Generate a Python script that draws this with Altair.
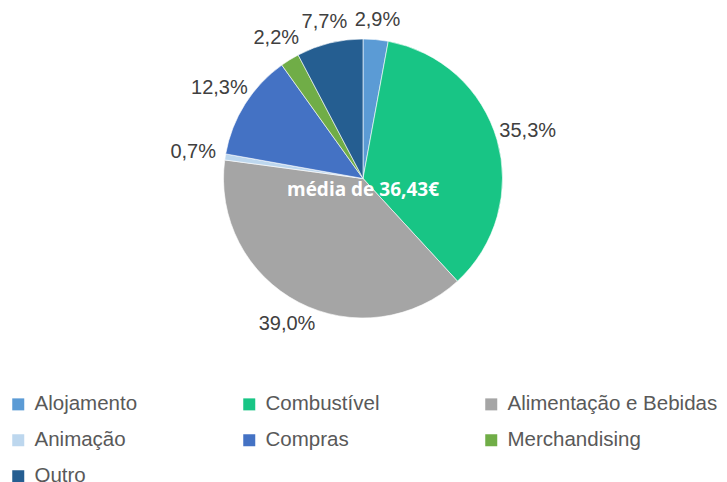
import altair as alt
import pandas as pd

categories = ["Alojamento", "Combustível", "Alimentação e Bebidas", "Animação", "Compras", "Merchandising", "Outro"]
values = [2.9, 35.3, 39.0, 0.7, 12.3, 2.2, 7.7]
labels = ["2,9%", "35,3%", "39,0%", "0,7%", "12,3%", "2,2%", "7,7%"]
colors = ["#5B9BD5", "#18C585", "#A5A5A5", "#BDD7EE", "#4472C4", "#70AD47", "#255E91"]
center_text = "média de 36,43€"

df = pd.DataFrame({"cat": categories, "val": values, "lab": labels, "ord": list(range(len(categories)))})

TOP = 20
W, H = 711, 454
CX, CY = 355, 178.5 - 8 - TOP

pie = alt.Chart(df).mark_arc(outerRadius=139.5, stroke="white", strokeWidth=0.6).encode(
    theta=alt.Theta("val:Q", stack=True),
    order=alt.Order("ord:Q"),
    x=alt.value(CX),
    y=alt.value(CY),
    color=alt.Color(
        "cat:N",
        scale=alt.Scale(domain=categories, range=colors),
        sort=categories,
        legend=alt.Legend(
            title=None,
            orient="none",
            legendX=0,
            legendY=366,
            padding=0,
            direction="horizontal",
            columns=3,
            columnPadding=101,
            rowPadding=15,
            symbolType="square",
            symbolSize=144,
            symbolStrokeWidth=0,
            labelFontSize=20.5,
            labelFont="Liberation Sans",
            labelColor="#595959",
            labelLimit=400,
            labelOffset=6,
            gridAlign="each",
        ),
    ),
)

# labels at the middle angle of each slice; wide labels at the sides sit further out
text = alt.Chart(df).transform_joinaggregate(
    total="sum(val)"
).transform_window(
    cum="sum(val)", sort=[alt.SortField("ord")], frame=[None, 0]
).transform_calculate(
    mid="(datum.cum - datum.val / 2) / datum.total * 2 * PI",
    rad="158 + 14 * abs(sin(datum.mid))",
).mark_text(fontSize=20, font="Liberation Sans", color="#404040").encode(
    theta=alt.Theta("mid:Q", scale=None, stack=False),
    radius=alt.Radius("rad:Q", scale=None),
    x=alt.value(CX),
    y=alt.value(CY),
    text="lab:N",
)

center = alt.Chart(pd.DataFrame({"t": [center_text]})).mark_text(
    fontSize=19, fontWeight="bold", font="Open Sans", color="white"
).encode(text="t:N", x=alt.value(CX), y=alt.value(190 - 8 - TOP))

chart = alt.layer(pie, text, center).properties(
    width=W, height=H, autosize=alt.AutoSizeParams(type="none"),
    padding={"top": TOP, "left": 0, "right": 0, "bottom": 0},
).configure_view(stroke=None)

chart.save("out.html", embed_options={"renderer": "svg", "actions": False})
